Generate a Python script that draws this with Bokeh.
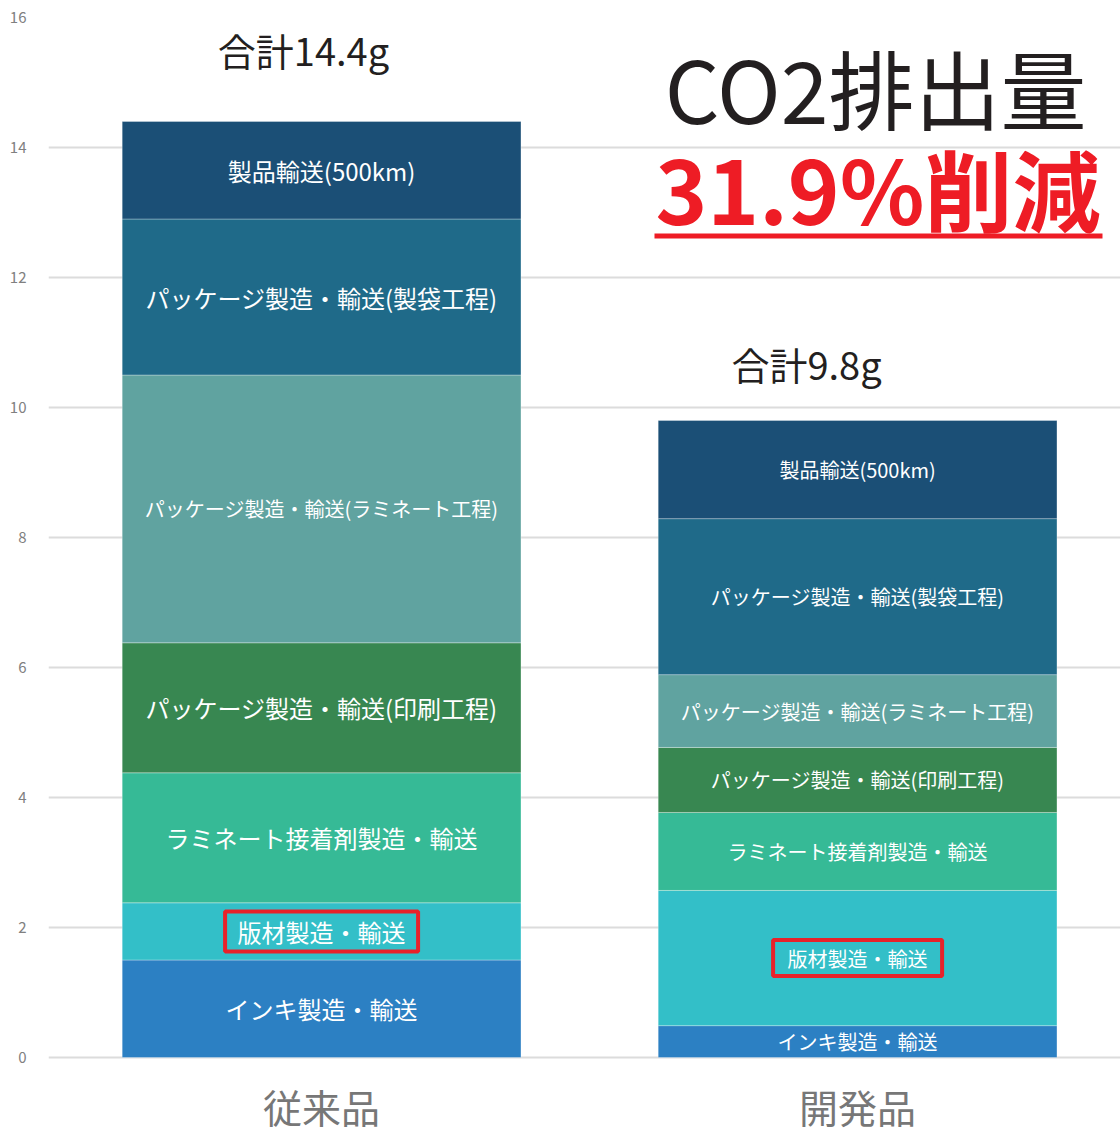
from bokeh.plotting import figure
from bokeh.models import ColumnDataSource, Range1d, FactorRange, FixedTicker
from bokeh.core.properties import value
from bokeh.transform import dodge
from bokeh.embed import file_html
from bokeh.resources import INLINE

# ---------------- data ----------------
categories = ["従来品", "開発品"]
stages = [
    "インキ製造・輸送",
    "版材製造・輸送",
    "ラミネート接着剤製造・輸送",
    "パッケージ製造・輸送(印刷工程)",
    "パッケージ製造・輸送(ラミネート工程)",
    "パッケージ製造・輸送(製袋工程)",
    "製品輸送(500km)",
]
conventional = [1.5, 0.88, 2.0, 2.0, 4.12, 2.4, 1.5]
developed = [0.49, 2.08, 1.2, 1.0, 1.12, 2.4, 1.51]
stage_colors = ["#2c80c3", "#33bfc8", "#36ba96", "#388751", "#60a3a0", "#1f6a89", "#1b4f76"]
totals = [14.4, 9.8]
total_labels = ["合計14.4g", "合計9.8g"]
y_ticks = [0, 2, 4, 6, 8, 10, 12, 14, 16]
title_text = "CO2排出量"
reduction_text = "31.9%削減"
highlight_stage = "版材製造・輸送"

FONT = "Noto Sans CJK JP"

# the frame reaches down to the page bottom so that the category labels
# (drawn below the zero line) stay inside it
Y_BOTTOM_ROOM = 76 / 65.0
p = figure(
    x_range=FactorRange(*categories),
    y_range=Range1d(-Y_BOTTOM_ROOM, 16),
    width=1120, height=1133,
    output_backend="svg", toolbar_location=None,
    min_border_left=48, min_border_right=0, min_border_top=17, min_border_bottom=0,
)
p.outline_line_color = None
p.background_fill_color = "white"
p.border_fill_color = "white"

BAR_SHIFT = 0.0095  # small visual shift of the bars to the right
xb = dodge("x", BAR_SHIFT, range=p.x_range)

# stacked bars
series = [conventional, developed]
src = {"x": categories}
for i, s in enumerate(stages):
    src[s] = [conventional[i], developed[i]]
source = ColumnDataSource(src)
p.vbar_stack(stages, x=xb, width=0.744, source=source,
             fill_color=stage_colors, line_color="white", line_alpha=0.3, line_width=1)

# segment labels
lx, ly, lt, ls = [], [], [], []
for j, cat in enumerate(categories):
    bottom = 0.0
    for i, s in enumerate(stages):
        v = series[j][i]
        lx.append(cat)
        ly.append(bottom + v / 2)
        lt.append(s)
        if j == 0:
            ls.append("20px" if i == 4 else "24px")
        else:
            ls.append("20px")
        bottom += v
lab_src = ColumnDataSource(dict(x=lx, y=ly, text=lt, size=ls))
p.text(x=xb, y="y", text="text", source=lab_src, text_color="white",
       text_font=value(FONT), text_font_size="size",
       text_align="center", text_baseline="middle")

# red highlight boxes around the plate label
hi = stages.index(highlight_stage)
hy = [sum(series[j][:hi]) + series[j][hi] / 2 for j in range(len(categories))]
box_src = ColumnDataSource(dict(x=categories, y=hy, w=[193, 169], h=[40, 36]))
p.rect(x=xb, y="y", width="w", height="h", width_units="screen", height_units="screen",
       source=box_src, fill_alpha=0, line_color="#e8222a", line_width=4)

# totals
tot_src = ColumnDataSource(dict(x=categories, y=totals, text=total_labels,
                                xo=[-13, -46], yo=[-72, -57]))
p.text(x="x", y="y", text="text", source=tot_src, x_offset="xo", y_offset="yo",
       text_color="#231f20", text_font=value(FONT), text_font_size="38px",
       text_align="center", text_baseline="middle")

# headline
p.text(x=[categories[1]], y=[14.94], text=[title_text], x_offset=234,
       text_color="#231f20", text_font=value(FONT), text_font_size="86px",
       text_align="right", text_baseline="middle")
p.text(x=[categories[1]], y=[13.4], text=[reduction_text], x_offset=248,
       text_color="#ee1c25", text_font=value(FONT), text_font_size="88px",
       text_font_style="bold", text_align="right", text_baseline="middle")
ul_src = ColumnDataSource(dict(x=[categories[1]], y=[12.64]))
p.rect(x=dodge("x", 0.0485, range=p.x_range), y="y", source=ul_src, width=448, height=5,
       width_units="screen", height_units="screen",
       fill_color="#ee1c25", line_color=None)

# category labels under the bars
cat_src = ColumnDataSource(dict(x=categories, y=[0, 0]))
p.text(x=xb, y="y", text="x", source=cat_src, y_offset=48,
       text_align="center", text_baseline="middle",
       text_font=value(FONT), text_font_size="39px", text_color="#777777")

# axes & grid
p.xaxis.visible = False
p.ygrid.grid_line_color = "#dcdcdc"
p.ygrid.grid_line_width = 2
p.xgrid.grid_line_color = None
p.yaxis.ticker = FixedTicker(ticks=y_ticks)
p.yaxis.axis_line_color = None
p.yaxis.major_tick_line_color = None
p.yaxis.minor_tick_line_color = None
p.yaxis.major_label_standoff = 16
p.yaxis.major_label_text_font = FONT
p.yaxis.major_label_text_font_size = "15px"
p.yaxis.major_label_text_color = "#808080"

open("out.html", "w").write(file_html(p, INLINE))
